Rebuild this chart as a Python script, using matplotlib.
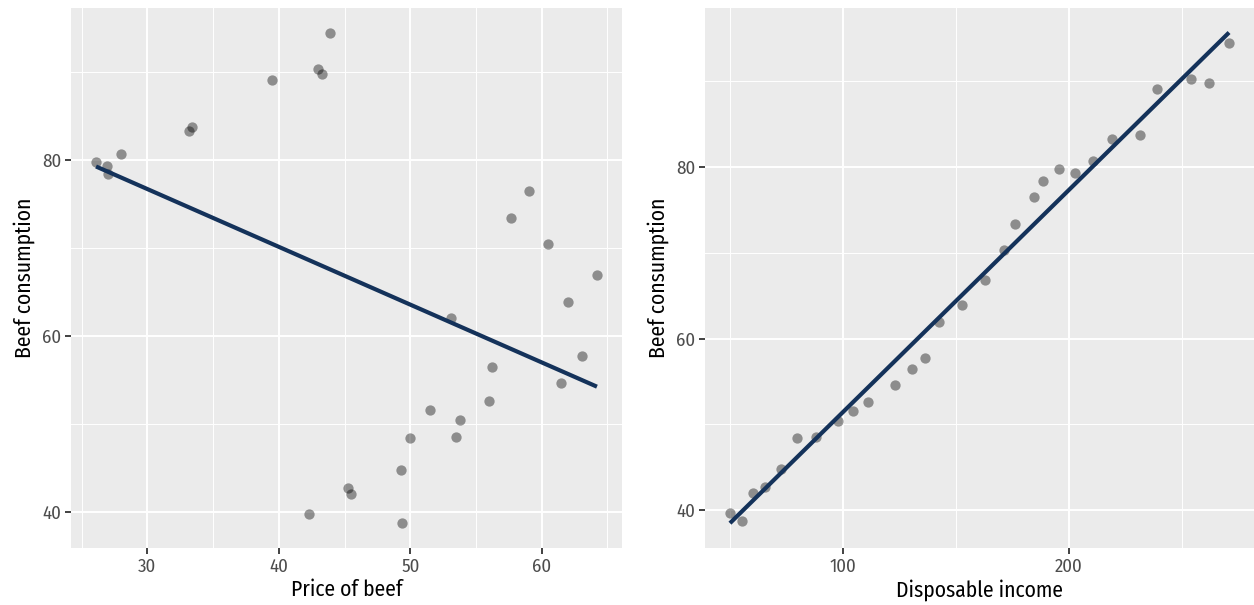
import numpy as np
import matplotlib
matplotlib.use("Agg")
import matplotlib.pyplot as plt
from matplotlib import font_manager
from matplotlib.ticker import MultipleLocator

# beef data: price, disposable income, consumption
price = [42.3, 49.4, 45.5, 45.3, 49.3, 50.0, 53.5, 53.8, 51.5, 56.0,
         61.5, 56.2, 63.1, 53.1, 62.0, 64.2, 60.5, 57.7, 59.0, 27.0,
         26.1, 26.9, 28.0, 33.2, 33.4, 39.5, 43.0, 43.3, 43.9]
income = [49.8, 55.1, 59.9, 65.2, 72.2, 79.7, 88.1, 97.8, 104.4, 111.0,
          122.9, 130.4, 136.1, 142.3, 152.4, 162.6, 171.4, 176.2, 184.6, 188.5,
          195.6, 202.6, 210.6, 218.9, 231.3, 239.2, 254.2, 262.1, 270.9]
consumption = [39.7, 38.7, 42.0, 42.7, 44.8, 48.4, 48.5, 50.4, 51.6, 52.6,
               54.6, 56.5, 57.7, 62.0, 63.9, 66.9, 70.4, 73.4, 76.5, 78.4,
               79.8, 79.3, 80.7, 83.3, 83.8, 89.1, 90.3, 89.8, 94.5]

names = {f.name for f in font_manager.fontManager.ttflist}
fam = "DejaVu Sans"
for cand in ["Fira Sans Condensed", "Roboto Condensed", "Liberation Sans Narrow",
             "Open Sans Condensed", "Noto Sans"]:
    if cand in names:
        fam = cand
        break
plt.rcParams["font.family"] = [fam, "DejaVu Sans"]

W, H = 1254, 605
fig = plt.figure(figsize=(W / 100, H / 100), dpi=100)
ax1 = fig.add_axes([71 / W, 57.3 / H, 551 / W, 539.7 / H])
ax2 = fig.add_axes([705 / W, 57.3 / H, 549 / W, 539.7 / H])


def expand(lo, hi):
    d = (hi - lo) * 0.05
    return lo - d, hi + d


def panel(ax, x, y, xlabel, xmajor):
    x = np.array(x)
    y = np.array(y)
    b, a = np.polyfit(x, y, 1)
    xs = np.array([x.min(), x.max()])
    ys = a + b * xs
    ax.set_facecolor("#EBEBEB")
    ax.scatter(x, y, s=55, color="black", alpha=0.4, linewidths=0, zorder=3)
    ax.plot(xs, ys, color="#14325A", lw=3, solid_capstyle="butt", zorder=4)
    ax.set_xlim(*expand(x.min(), x.max()))
    ax.set_ylim(*expand(min(y.min(), ys.min()), max(y.max(), ys.max())))
    ax.xaxis.set_major_locator(MultipleLocator(xmajor))
    ax.xaxis.set_minor_locator(MultipleLocator(xmajor / 2))
    ax.yaxis.set_major_locator(MultipleLocator(20))
    ax.yaxis.set_minor_locator(MultipleLocator(10))
    ax.grid(which="major", color="white", lw=1.4)
    ax.grid(which="minor", color="white", lw=0.7)
    ax.set_axisbelow(True)
    for s in ax.spines.values():
        s.set_visible(False)
    ax.tick_params(which="major", length=4, width=1.3, color="#333333",
                   labelcolor="#4D4D4D", labelsize=13.5, pad=3)
    ax.tick_params(which="minor", length=0)
    ax.set_xlabel(xlabel, fontsize=15.5, labelpad=3)
    ax.set_ylabel("Beef consumption", fontsize=15.5, labelpad=5)


panel(ax1, price, consumption, "Price of beef", 10)
panel(ax2, income, consumption, "Disposable income", 100)

fig.savefig("out.png", dpi=100)
